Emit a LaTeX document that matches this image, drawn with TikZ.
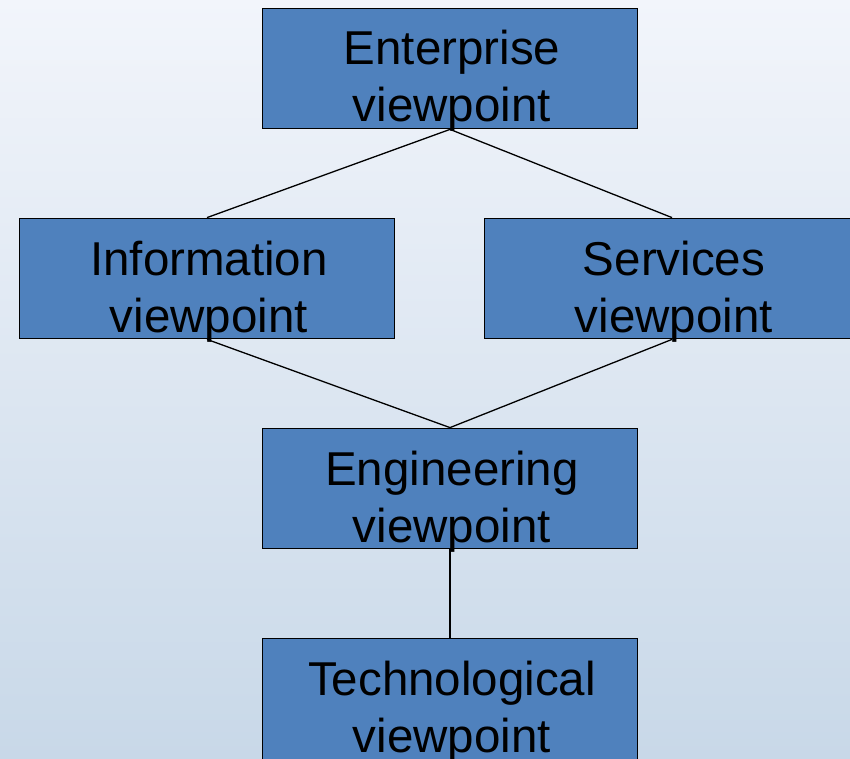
\documentclass[tikz,border=0pt]{standalone}
\usepackage{fontspec}
\setmainfont{Liberation Sans}
\definecolor{bgtop}{HTML}{F2F5FB}
\definecolor{bgbot}{HTML}{C8D8E8}
\definecolor{boxfill}{HTML}{4F81BD}
\newcommand{\twolines}[2]{\kern4pt\vtop{\baselineskip=57pt\halign{\hfil##\hfil\cr#1\cr#2\cr}}}
\tikzset{
  viewbox/.style={draw=black, line width=1.8pt, fill=boxfill, inner sep=0pt,
    minimum width=375pt, minimum height=120pt, text height=56.5pt, text depth=63.5pt,
    font=\fontsize{47.5}{57}\selectfont},
  link/.style={draw=black, line width=1.3pt}
}
\begin{document}
\begin{tikzpicture}[x=1pt,y=-1pt]
\useasboundingbox (0,0) rectangle (850,759);
\clip (0,0) rectangle (850,759);
\shade[top color=bgtop, bottom color=bgbot] (0,0) rectangle (850,759);
\node[viewbox] (ent) at (450,68.5) {\twolines{Enterprise}{viewpoint}};
\node[viewbox] (inf) at (207,278.5) {\twolines{Information}{viewpoint}};
\node[viewbox] (ser) at (672,278.5) {\twolines{Services}{viewpoint}};
\node[viewbox] (eng) at (450,488.5) {\twolines{Engineering}{viewpoint}};
\node[viewbox, minimum height=124pt, text depth=67.5pt] (tec) at (450,700.5) {\twolines{Technological}{viewpoint}};
\draw[link] (ent.south) -- (inf.north);
\draw[link] (ent.south) -- (ser.north);
\draw[link] (inf.south) -- (eng.north);
\draw[link] (ser.south) -- (eng.north);
\draw[link] (eng.south) -- (tec.north);
\end{tikzpicture}
\end{document}
